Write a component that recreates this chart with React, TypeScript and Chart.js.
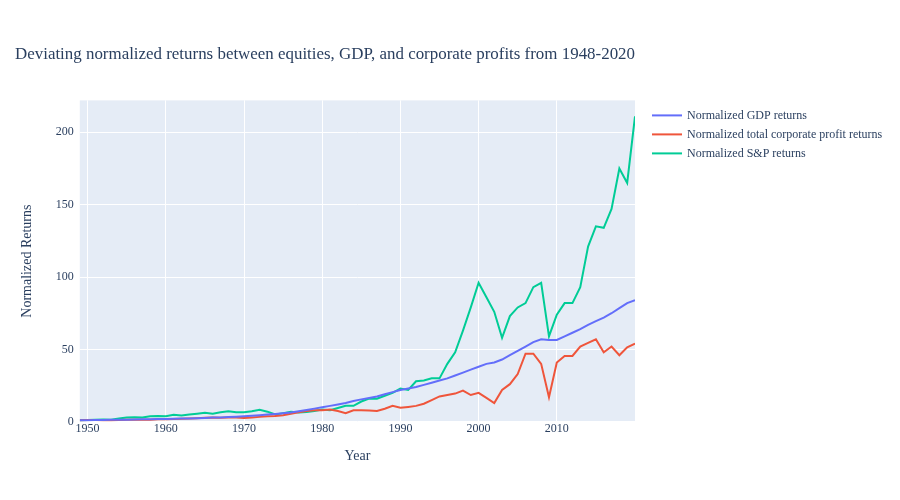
import React, { useEffect, useRef } from 'react';
import { Chart, registerables } from 'chart.js';

Chart.register(...registerables);

const years: number[] = Array.from({ length: 72 }, (_, i) => 1949 + i);

const gdpReturns = [
  1, 1.1, 1.2, 1.3, 1.4, 1.4, 1.5, 1.6, 1.7, 1.7, 1.9,
  2, 2.1, 2.2, 2.3, 2.5, 2.7, 2.9, 3, 3.3, 3.5,
  3.8, 4.1, 4.5, 5, 5.4, 5.9, 6.5, 7.3, 8.2, 9.1,
  10, 11, 12, 13, 14.3, 15.5, 16.5, 17.5, 19, 20.5,
  22, 23, 24, 25.5, 27, 28.5, 30, 32, 34, 36,
  38, 40, 41, 43, 46, 49, 52, 55, 57, 56.5,
  56.5, 59, 61.5, 64, 67, 69.5, 72, 75, 78.5, 82, 84,
];

const profitReturns = [
  1, 1.3, 1.2, 1.1, 1.1, 1.2, 1.5, 1.5, 1.5, 1.4, 1.8,
  1.8, 1.9, 2.1, 2.3, 2.5, 2.8, 2.9, 2.8, 3, 2.9,
  2.6, 3, 3.4, 3.8, 4, 4.5, 5.5, 6.5, 7.5, 8,
  8, 8.5, 7.5, 6, 8, 8, 7.8, 7.5, 9, 11,
  9.7, 10.3, 11, 12.5, 15, 17.5, 18.5, 19.5, 21.5, 18.5,
  20, 16.5, 13, 22, 26, 33, 47, 47, 40, 17,
  41, 45.5, 45.5, 52, 54.5, 57, 48, 52, 46, 51.5, 54,
];

const spReturns = [
  1, 1.2, 1.5, 1.6, 1.5, 2.2, 2.9, 3.2, 2.9, 3.8, 4,
  3.9, 4.8, 4.3, 5.1, 5.6, 6.2, 5.6, 6.6, 7.3, 6.6,
  6.6, 7.3, 8.3, 7, 5, 6, 7, 6.5, 6.8, 7.5,
  8.5, 8, 9.5, 11, 11, 14, 16, 16, 18, 20,
  23, 22, 28, 28.5, 30, 30, 40, 48, 63, 79,
  96, 86, 76, 58, 73, 79, 82, 93, 96, 59,
  74, 82, 82, 93, 121, 135, 134, 147, 175, 165, 211,
];

const xTicks = [1950, 1960, 1970, 1980, 1990, 2000, 2010];
const yTicks = [0, 50, 100, 150, 200];

const FONT = '"Liberation Serif", "DejaVu Serif", serif';
const TEXT = '#2a3f5f';

const plotBackground = {
  id: 'plotBackground',
  beforeDraw(chart: Chart) {
    const { ctx, chartArea } = chart;
    ctx.save();
    ctx.fillStyle = '#e5ecf6';
    ctx.fillRect(chartArea.left, chartArea.top, chartArea.width, chartArea.height);
    ctx.restore();
  },
};

// plotly-style legend to the right of the plot
const sideLegend = {
  id: 'sideLegend',
  afterDraw(chart: Chart) {
    const { ctx, chartArea } = chart;
    const x0 = chartArea.right + 17;
    ctx.save();
    ctx.font = `12px ${FONT}`;
    ctx.textBaseline = 'middle';
    chart.data.datasets.forEach((d: any, i: number) => {
      const y = chartArea.top + 15 + i * 19;
      ctx.strokeStyle = d.borderColor;
      ctx.lineWidth = 2;
      ctx.beginPath();
      ctx.moveTo(x0, y);
      ctx.lineTo(x0 + 30, y);
      ctx.stroke();
      ctx.fillStyle = TEXT;
      ctx.fillText(d.label, x0 + 35, y);
    });
    ctx.restore();
  },
};

const toPoints = (vals: number[]) => vals.map((v, i) => ({ x: years[i], y: v }));

export default function App() {
  const canvasRef = useRef<HTMLCanvasElement>(null);

  useEffect(() => {
    const ctx = canvasRef.current?.getContext('2d');
    if (!ctx) return;
    const chart = new Chart(ctx, {
      type: 'line',
      data: {
        datasets: [
          { label: 'Normalized GDP returns', data: toPoints(gdpReturns), borderColor: '#636efa', backgroundColor: '#636efa' },
          { label: 'Normalized total corporate profit returns', data: toPoints(profitReturns), borderColor: '#EF553B', backgroundColor: '#EF553B' },
          { label: 'Normalized S&P returns', data: toPoints(spReturns), borderColor: '#00cc96', backgroundColor: '#00cc96' },
        ],
      },
      options: {
        animation: false,
        responsive: false,
        elements: { point: { radius: 0 }, line: { borderWidth: 2, tension: 0 } },
        layout: { padding: { left: 15, right: 265, bottom: 31 } },
        plugins: {
          title: {
            display: true,
            text: 'Deviating normalized returns between equities, GDP, and corporate profits from 1948-2020',
            color: TEXT,
            font: { family: FONT, size: 17, weight: 'normal' },
            padding: { top: 44, bottom: 36 },
          },
          legend: { display: false },
          tooltip: { enabled: false },
        },
        scales: {
          x: {
            type: 'linear',
            min: 1949,
            max: 2020,
            afterBuildTicks: (axis: any) => { axis.ticks = xTicks.map(v => ({ value: v })); },
            ticks: { color: TEXT, font: { family: FONT, size: 12 }, maxRotation: 0, padding: 0, callback: (v: any) => String(v) },
            grid: { color: '#ffffff', lineWidth: 1, drawTicks: false },
            border: { display: false },
            title: { display: true, text: 'Year', color: TEXT, font: { family: FONT, size: 14 }, padding: { top: 12 } },
          },
          y: {
            min: 0,
            max: 222,
            afterBuildTicks: (axis: any) => { axis.ticks = yTicks.map(v => ({ value: v })); },
            ticks: { color: TEXT, font: { family: FONT, size: 12 }, padding: 6, callback: (v: any) => String(v) },
            grid: { color: '#ffffff', lineWidth: 1, drawTicks: false },
            border: { display: false },
            title: { display: true, text: 'Normalized Returns', color: TEXT, font: { family: FONT, size: 14 }, padding: { bottom: 14 } },
          },
        },
      },
      plugins: [plotBackground, sideLegend],
    });
    return () => chart.destroy();
  }, []);

  return (
    <div style={{ position: 'absolute', left: 0, top: 0, width: 900, height: 500, background: '#fff' }}>
      <canvas ref={canvasRef} width={900} height={500} style={{ width: 900, height: 500 }} />
    </div>
  );
}
